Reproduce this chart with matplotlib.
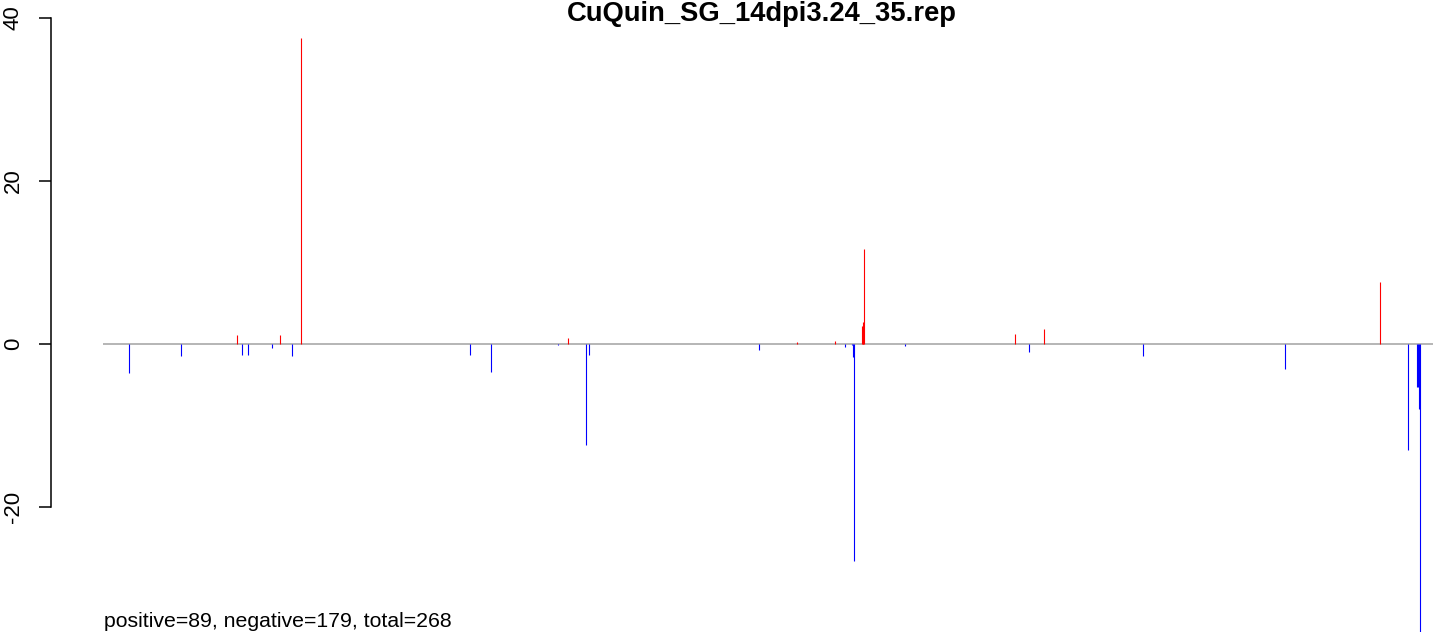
import matplotlib
matplotlib.use('Agg')
import matplotlib.pyplot as plt
import numpy as np

plt.rcParams['font.family'] = ['Liberation Sans', 'DejaVu Sans']

title = 'CuQuin_SG_14dpi3.24_35.rep'
summary = 'positive=89, negative=179, total=268'

# position along the sequence and score of each site
positions = [129.3, 181.3, 237.3, 242.3, 248.3, 272.3, 280.3, 292.3, 301.3,
             470.3, 491.3, 558.3, 568.3, 586.3, 589.3,
             759.3, 797.3, 835.3, 845.3, 852.3, 853.3, 854.3,
             862.2, 862.8, 863.5, 864.3, 905.3,
             1015.3, 1029.3, 1044.3, 1143.3, 1285.3,
             1380.3, 1408.3, 1417.5, 1418.2, 1419.2, 1420.3]
scores = [-3.6, -1.5, 1.15, -1.3, -1.3, -0.5, 1.15, -1.5, 37.5,
          -1.35, -3.4, -0.15, 0.7, -12.4, -1.35,
          -0.75, 0.25, 0.37, -0.33, -0.15, -1.6, -26.6,
          2.2, 2.2, 2.7, 11.65, -0.3,
          1.2, -1.0, 1.8, -1.5, -3.1,
          7.6, -13.0, -5.3, -5.3, -8.0, -36.0]
yticks = [-20, 0, 20, 40]

W, H = 1433, 632
fig = plt.figure(figsize=(W / 100, H / 100), dpi=100)
ax = fig.add_axes([51 / W, 0, 1 - 51 / W, 1])
ax.set_xlim(51, 1433)
ax.set_ylim(-288 / 8.15, 344 / 8.15)

# baseline
ax.hlines(0, 103, 1440, colors='#a9a9a9', linewidth=1.2, zorder=1)

scores = np.array(scores)
colors = np.where(scores > 0, 'red', 'blue')
ax.vlines(positions, 0, scores, colors=colors, linewidth=0.8, zorder=2)

for s in ['top', 'right', 'bottom']:
    ax.spines[s].set_visible(False)
ax.spines['left'].set_bounds(-20, 40)
ax.spines['left'].set_linewidth(1.1)
ax.set_xticks([])
ax.set_yticks(yticks)
ax.set_yticklabels([str(t) for t in yticks], rotation=90, va='center')
ax.tick_params(axis='y', length=8.6, width=1.1, pad=11, labelsize=16)

# title and summary pushed just inside the canvas so nothing is clipped
fig.text(762 / W, 1 - 1 / H, title, ha='center', va='top',
         fontsize=19.7, fontweight='bold')
fig.text(104 / W, 1 / H, summary, ha='left', va='bottom', fontsize=15.3)

fig.savefig('out.png', dpi=100)
